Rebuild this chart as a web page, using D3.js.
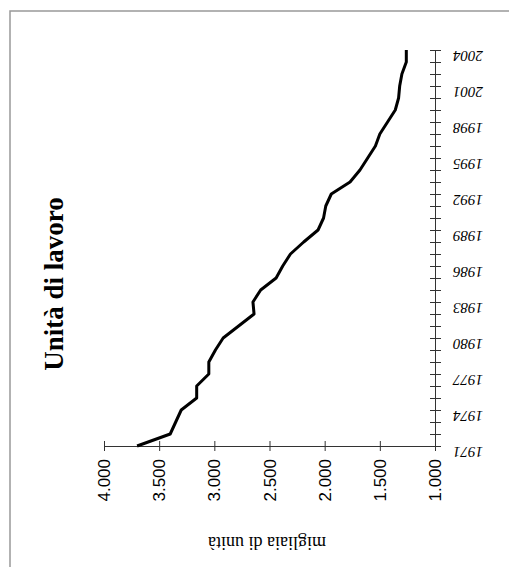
<!DOCTYPE html>
<html>
<head>
<meta charset="utf-8">
<script src="https://cdn.jsdelivr.net/npm/d3@7"></script>
<style>
  html, body { margin: 0; padding: 0; background: #fff; }
  svg { display: block; }
</style>
</head>
<body>
<script>
// ---- data ----
const years = [1971,1972,1973,1974,1975,1976,1977,1978,1979,1980,1981,1982,1983,1984,1985,1986,1987,1988,1989,1990,1991,1992,1993,1994,1995,1996,1997,1998,1999,2000,2001,2002,2003,2004];
const unita = [3700,3400,3350,3300,3160,3160,3050,3050,2990,2920,2780,2640,2650,2580,2440,2380,2310,2190,2060,2010,1990,1940,1770,1680,1610,1540,1500,1430,1360,1330,1320,1300,1260,1260];
const valueTicks = [4000,3500,3000,2500,2000,1500,1000];
const valueTickLabels = ["4.000","3.500","3.000","2.500","2.000","1.500","1.000"];
const yearTickLabels = ["1971","1974","1977","1980","1983","1986","1989","1992","1995","1998","2001","2004"];
const title = "Unità di lavoro";
const axisTitle = "migliaia di unità";

// ---- layout ----
const W = 509, H = 567;
const svg = d3.select("body").append("svg").attr("width", W).attr("height", H);

// frame (scanned page edge)
svg.append("path")
  .attr("d", `M10,${H} L10,11 L${W},11`)
  .attr("fill", "none").attr("stroke", "#999").attr("stroke-width", 1.5);

const x = d3.scaleLinear().domain([4000, 1000]).range([104, 435]);
const y = d3.scaleLinear().domain([1971, 2004]).range([446, 50]);

const serif = "'Liberation Serif', 'Times New Roman', serif";
const sans = "'Liberation Sans', Arial, sans-serif";

// value axis (horizontal)
const gx = svg.append("g").attr("transform", `translate(0,${y(1971)})`)
  .call(d3.axisBottom(x).tickValues(valueTicks)
    .tickFormat((d, i) => valueTickLabels[i]).tickSizeOuter(0));
gx.attr("font-family", null).attr("font-size", null);
gx.select(".domain").attr("stroke", "#333").attr("stroke-width", 1);
gx.selectAll(".tick line").attr("y1", -5).attr("y2", 5).attr("stroke", "#333");
gx.selectAll(".tick text")
  .attr("x", 0).attr("y", 0).attr("dy", null)
  .attr("transform", "translate(0,13) rotate(-90)")
  .attr("text-anchor", "end")
  .attr("dominant-baseline", "central")
  .attr("font-family", sans).attr("font-size", 17).attr("fill", "#000");

// year axis (vertical)
const gy = svg.append("g").attr("transform", `translate(${x(1000)},0)`)
  .call(d3.axisRight(y).tickValues(years)
    .tickFormat(d => yearTickLabels.includes(String(d)) ? String(d) : "").tickSizeOuter(0));
gy.attr("font-family", null).attr("font-size", null);
gy.select(".domain").attr("stroke", "#333").attr("stroke-width", 1);
gy.selectAll(".tick line").attr("x1", -5).attr("x2", 6).attr("stroke", "#333");
gy.selectAll(".tick text")
  .attr("x", 0).attr("y", 0).attr("dy", null)
  .attr("transform", "translate(18,0) rotate(180)")
  .attr("text-anchor", "end")
  .attr("font-family", serif).attr("font-size", 15).attr("font-style", "italic").attr("fill", "#000");

// line
svg.append("path")
  .datum(years.map((yr, i) => [yr, unita[i]]))
  .attr("fill", "none").attr("stroke", "#000").attr("stroke-width", 3)
  .attr("stroke-linejoin", "round").attr("stroke-linecap", "butt")
  .attr("d", d3.line().x(d => x(d[1])).y(d => y(d[0])));

// title
svg.append("text")
  .attr("transform", "translate(63,284) rotate(-90)")
  .attr("text-anchor", "middle")
  .attr("font-family", serif).attr("font-weight", "bold").attr("font-size", 27)
  .text(title);

// axis title
svg.append("text")
  .attr("transform", "translate(267,537) rotate(180)")
  .attr("text-anchor", "middle")
  .attr("font-family", serif).attr("font-size", 18)
  .text(axisTitle);
</script>
</body>
</html>
